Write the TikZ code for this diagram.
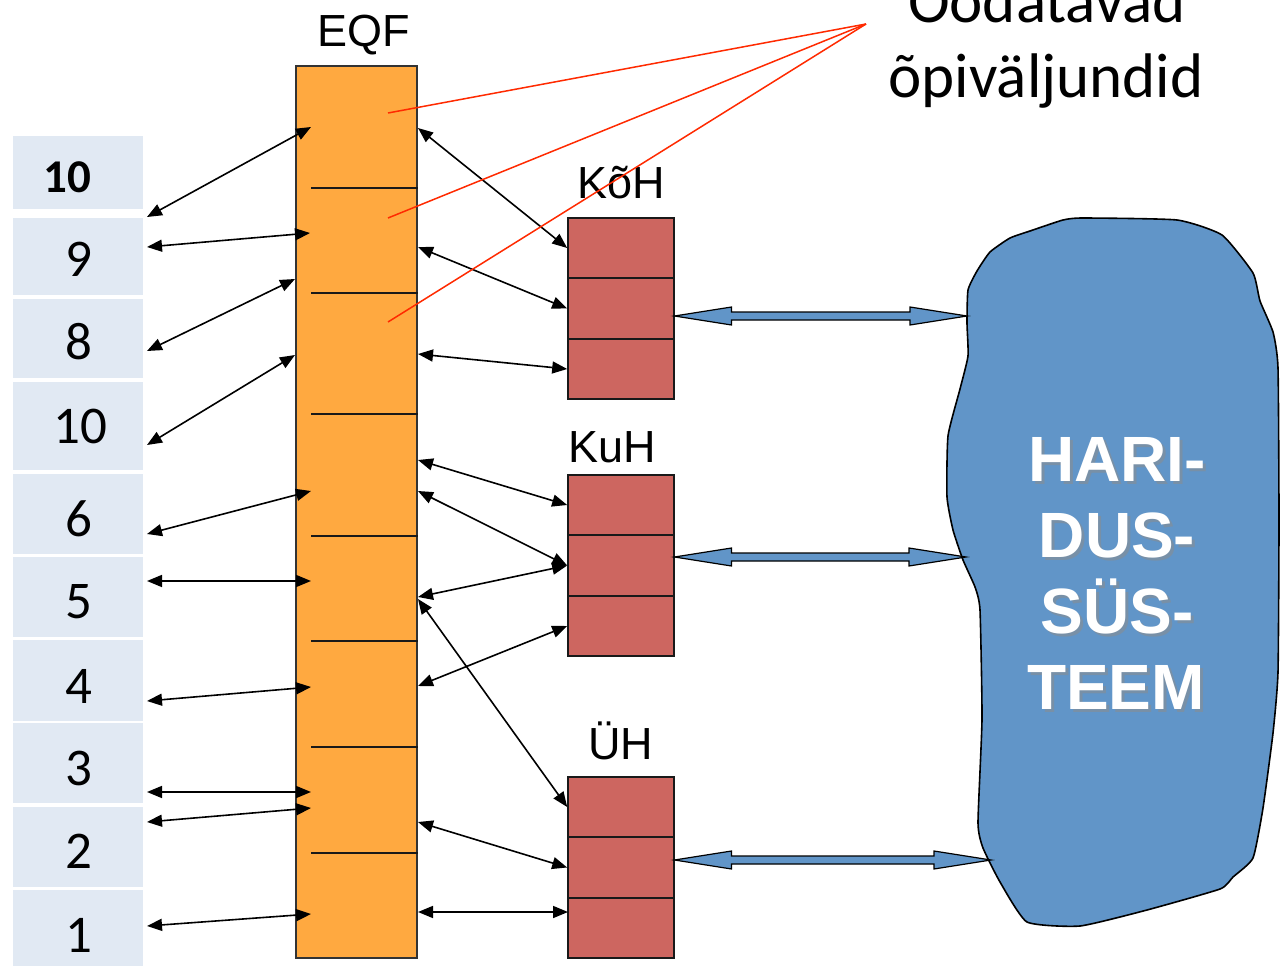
\documentclass[tikz,border=0pt]{standalone}
\usepackage{fontspec}
\setmainfont{Carlito}
\newfontfamily\arialf{Liberation Sans}
\usetikzlibrary{arrows.meta,calc}
\definecolor{lvlfill}{HTML}{E1E9F3}
\definecolor{eqffill}{HTML}{FFA940}
\definecolor{cellfill}{HTML}{CD6660}
\definecolor{blobfill}{HTML}{6195C8}
\definecolor{redline}{HTML}{FF2A00}
\newcommand\bluedbl[2]{\draw[fatarrow] (#1) -- ++(57,-9) -- ++(0,5) -- ($(#2)+(-57,-4)$) -- ++(0,-5) -- (#2) -- ++(-57,9) -- ++(0,-5) -- ($(#1)+(57,4)$) -- ++(0,5) -- cycle;}
\newcommand\haritext[3]{%
  \node[haribase, text=black!45, opacity=0.55] at ($(#1)+(3,3)$) {#3};
  \node[haribase, text=white] (#2) at (#1) {#3};}
\begin{document}
\begin{tikzpicture}[x=1pt,y=-1pt,
  lvl/.style={fill=lvlfill, draw=none, minimum width=130pt, inner sep=0pt, anchor=north west},
  digit/.style={font=\fontsize{53}{60}\selectfont, anchor=base, inner sep=0pt},
  bdigit/.style={font=\bfseries\fontsize{47}{55}\selectfont, anchor=base, inner sep=0pt},
  label/.style={font=\arialf\fontsize{45}{50}\selectfont, anchor=base, inner sep=0pt},
  cell/.style={fill=cellfill, draw=black!90, line width=1.6pt, minimum width=106pt, minimum height=60.3pt, inner sep=0pt},
  eqfbar/.style={fill=eqffill, draw=black!80, line width=1.5pt, minimum width=121pt, minimum height=892pt, inner sep=0pt},
  slot/.style={line width=1.5pt, black!90},
  conn/.style={line width=1.6pt, {Triangle[length=15pt,width=12pt]}-{Triangle[length=15pt,width=12pt]}},
  fatarrow/.style={fill=blobfill, draw=black, line width=1.2pt, line join=miter},
  blob/.style={fill=blobfill, draw=black, line width=1.6pt},
  haribase/.style={font=\arialf\bfseries\fontsize{64}{76}\selectfont, anchor=base, inner sep=0pt},
  ood/.style={font=\fontsize{63}{75}\selectfont, anchor=base, inner sep=0pt},
  redconn/.style={draw=redline, line width=1.5pt}]
\useasboundingbox (0,0) rectangle (1280,966);
\clip (0,0) rectangle (1280,966);
\fill[white] (0,0) rectangle (1280,966);

% level boxes
\node[lvl, minimum height=73pt] (l10a) at (13,136) {};
\node[lvl, minimum height=77pt] (l9) at (13,218) {};
\node[lvl, minimum height=79pt] (l8) at (13,299) {};
\node[lvl, minimum height=88pt] (l10b) at (13,382) {};
\node[lvl, minimum height=80pt] (l6) at (13,474) {};
\node[lvl, minimum height=80pt] (l5) at (13,557) {};
\node[lvl, minimum height=81pt] (l4) at (13,640) {};
\node[lvl, minimum height=80pt] (l3) at (13,723) {};
\node[lvl, minimum height=80pt] (l2) at (13,807) {};
\node[lvl, minimum height=90pt] (l1) at (13,890) {};
\node[bdigit] (t10a) at (67,192) {10};
\node[digit] (t9) at (79,276) {9};
\node[digit] (t8) at (79,359) {8};
\node[digit] (t10b) at (80,443) {10};
\node[digit] (t6) at (79,536) {6};
\node[digit] (t5) at (79,618) {5};
\node[digit] (t4) at (79,703) {4};
\node[digit] (t3) at (79,785) {3};
\node[digit] (t2) at (79,868) {2};
\node[digit] (t1) at (79,952) {1};

% EQF bar
\node[eqfbar] (eqf) at (356.5,512) {};
\foreach \yy in {188,293,414,536,641,747,853}
  \draw[slot] (311,\yy) -- (eqf.east |- 0,\yy);
\node[label] (eqflab) at (364,47) {EQF};

% qualification frameworks
\node[cell] (koh1) at (621,248) {};
\node[cell] (koh2) at (621,308.5) {};
\node[cell] (koh3) at (621,369) {};
\node[cell] (kuh1) at (621,505) {};
\node[cell] (kuh2) at (621,565.5) {};
\node[cell] (kuh3) at (621,626) {};
\node[cell] (uh1) at (621,807) {};
\node[cell] (uh2) at (621,867.5) {};
\node[cell] (uh3) at (621,928) {};
\node[label] (kohlab) at (621.5,198) {KõH};
\node[label] (kuhlab) at (612,462) {KuH};
\node[label] (uhlab) at (621,759) {ÜH};

% education system blob
\draw[blob] plot[smooth cycle, tension=0.3] coordinates {
  (1083,218) (1177,220) (1222,235) (1253,273) (1260,301) (1273,332) (1278,368)
  (1279,520) (1278,672) (1273,733) (1263,808) (1253,858) (1233,877) (1220,889)
  (1147,910) (1080,926) (1027,922) (1000,882) (983,848) (978,823) (982,719)
  (980,610) (975,587) (963,560) (953,530) (947,497) (948,436) (960,389)
  (968,356) (967,323) (968,290) (977,271) (990,252) (1010,238) (1030,231) (1063,220)};

% coordinates for connectors
\coordinate (eL1) at (147,217);  \coordinate (bL1) at (311,127);
\coordinate (eL2) at (147,247);  \coordinate (bL2) at (310,233);
\coordinate (eL3) at (147,351);  \coordinate (bL3) at (295,279);
\coordinate (eL4) at (147,445);  \coordinate (bL4) at (295,355);
\coordinate (eL5) at (147,534);  \coordinate (bL5) at (311,491);
\coordinate (eL6) at (147,581);  \coordinate (bL6) at (311,581);
\coordinate (eL7) at (147,701);  \coordinate (bL7) at (311,687);
\coordinate (eL8) at (147,792);  \coordinate (bL8) at (311,792);
\coordinate (eL9) at (147,822);  \coordinate (bL9) at (311,808);
\coordinate (eL10) at (147,926); \coordinate (bL10) at (311,914);
\coordinate (bR1) at (418,128);
\coordinate (bR2) at (418,247);
\coordinate (bR3) at (418,354);
\coordinate (bR4) at (418,460);
\coordinate (bR5) at (418,491);
\coordinate (bR6) at (418,597);
\coordinate (bR7) at (418,599);
\coordinate (bR8) at (418,686);
\coordinate (bR9) at (418,822);
\coordinate (bR10) at (418,912);
\coordinate (uh3in) at (568,912);

\foreach \i in {1,...,10} \draw[conn] (eL\i) -- (bL\i);
\draw[conn] (bR1) -- (koh1.west);
\draw[conn] (bR2) -- (koh2.west);
\draw[conn] (bR3) -- (koh3.west);
\draw[conn] (bR4) -- (kuh1.west);
\draw[conn] (bR5) -- (kuh2.west);
\draw[conn] (bR6) -- (kuh2.west);
\draw[conn] (bR7) -- (uh1.west);
\draw[conn] (bR8) -- (kuh3.west);
\draw[conn] (bR9) -- (uh2.west);
\draw[conn] (bR10) -- (uh3in);

% blue double arrows
\coordinate (kohA) at (674.5,316); \coordinate (sysA) at (967,316);
\coordinate (kuhA) at (674.5,557); \coordinate (sysB) at (966,557);
\coordinate (uhA) at (674.5,860);  \coordinate (sysC) at (991,860);
\bluedbl{kohA}{sysA}
\bluedbl{kuhA}{sysB}
\bluedbl{uhA}{sysC}

% system text
\haritext{1117,481}{h1}{HARI-}
\haritext{1117,557}{h2}{DUS-}
\haritext{1117,633}{h3}{SÜS-}
\haritext{1116,709}{h4}{TEEM}

% expected learning outcomes
\node[ood] (ood1) at (1047,23) {Oodatavad};
\node[ood] (ood2) at (1046,98) {õpiväljundid};
\coordinate (oodpt) at (866,24);
\coordinate (r1) at (388,113);
\coordinate (r2) at (388,218);
\coordinate (r3) at (388,322);
\draw[redconn] (oodpt) -- (r1);
\draw[redconn] (oodpt) -- (r2);
\draw[redconn] (oodpt) -- (r3);
\end{tikzpicture}
\end{document}
